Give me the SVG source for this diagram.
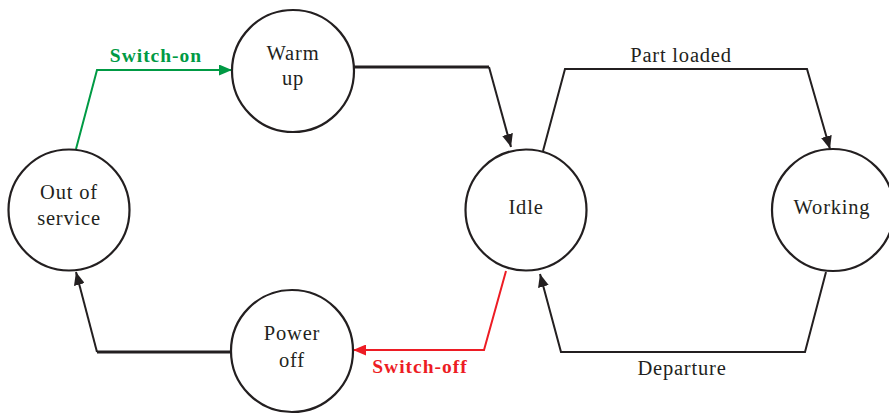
<svg xmlns="http://www.w3.org/2000/svg" width="889" height="414" viewBox="0 0 889 414">
<style>
.node circle{fill:#fff;stroke:#231f20;stroke-width:2.2}
text{font-family:"Liberation Serif",serif;font-size:20.5px;fill:#231f20;text-anchor:middle;letter-spacing:0.8px}
.lbl{font-weight:bold;font-size:19.5px;letter-spacing:1px}
.c{fill:none;stroke-linejoin:miter}
.k{stroke:#231f20}
.g{stroke:#009a44}
.r{stroke:#ed1c24}
</style>
<defs>
<marker id="ak" viewBox="0 0 13 11" refX="13" refY="5.5" markerWidth="13" markerHeight="11" markerUnits="userSpaceOnUse" orient="auto"><path d="M0,0L13,5.5L0,11z" fill="#231f20"/></marker>
<marker id="ag" viewBox="0 0 13 11" refX="13" refY="5.5" markerWidth="13" markerHeight="11" markerUnits="userSpaceOnUse" orient="auto"><path d="M0,0L13,5.5L0,11z" fill="#009a44"/></marker>
<marker id="ar" viewBox="0 0 13 11" refX="13" refY="5.5" markerWidth="13" markerHeight="11" markerUnits="userSpaceOnUse" orient="auto"><path d="M0,0L13,5.5L0,11z" fill="#ed1c24"/></marker>
</defs>
<g id="connectors">
<path class="c g" stroke-width="2" d="M76,149L97,70L232,70" marker-end="url(#ag)"/>
<path class="c k" stroke-width="3" d="M354,67L489,67"/>
<path class="c k" stroke-width="2" d="M489,67L511,147" marker-end="url(#ak)"/>
<path class="c k" stroke-width="2" d="M543,151L565,69L807,69L830,149" marker-end="url(#ak)"/>
<path class="c k" stroke-width="2" d="M826,272L805,352L561,352L540,274" marker-end="url(#ak)"/>
<path class="c r" stroke-width="2" d="M506,271L484,350L353,350" marker-end="url(#ar)"/>
<path class="c k" stroke-width="3" d="M232,352L97,352"/>
<path class="c k" stroke-width="2" d="M97,352L76,272" marker-end="url(#ak)"/>
<text class="lbl" x="156" y="62" style="fill:#009a44">Switch-on</text>
<text x="681" y="62">Part loaded</text>
<text x="682" y="375">Departure</text>
<text class="lbl" x="420" y="373" style="fill:#ed1c24">Switch-off</text>
</g>
<g id="warmup" class="node"><circle cx="293" cy="71" r="61"/><text x="293" y="60">Warm</text><text x="293" y="85">up</text></g>
<g id="outofservice" class="node"><circle cx="69" cy="210" r="60.5"/><text x="69" y="199">Out of</text><text x="69" y="225">service</text></g>
<g id="idle" class="node"><circle cx="526" cy="210" r="60.5"/><text x="526" y="214">Idle</text></g>
<g id="working" class="node"><circle cx="833" cy="210" r="61"/><text x="832" y="214">Working</text></g>
<g id="poweroff" class="node"><circle cx="292" cy="351" r="61"/><text x="292" y="340">Power</text><text x="292" y="367">off</text></g>
</svg>
